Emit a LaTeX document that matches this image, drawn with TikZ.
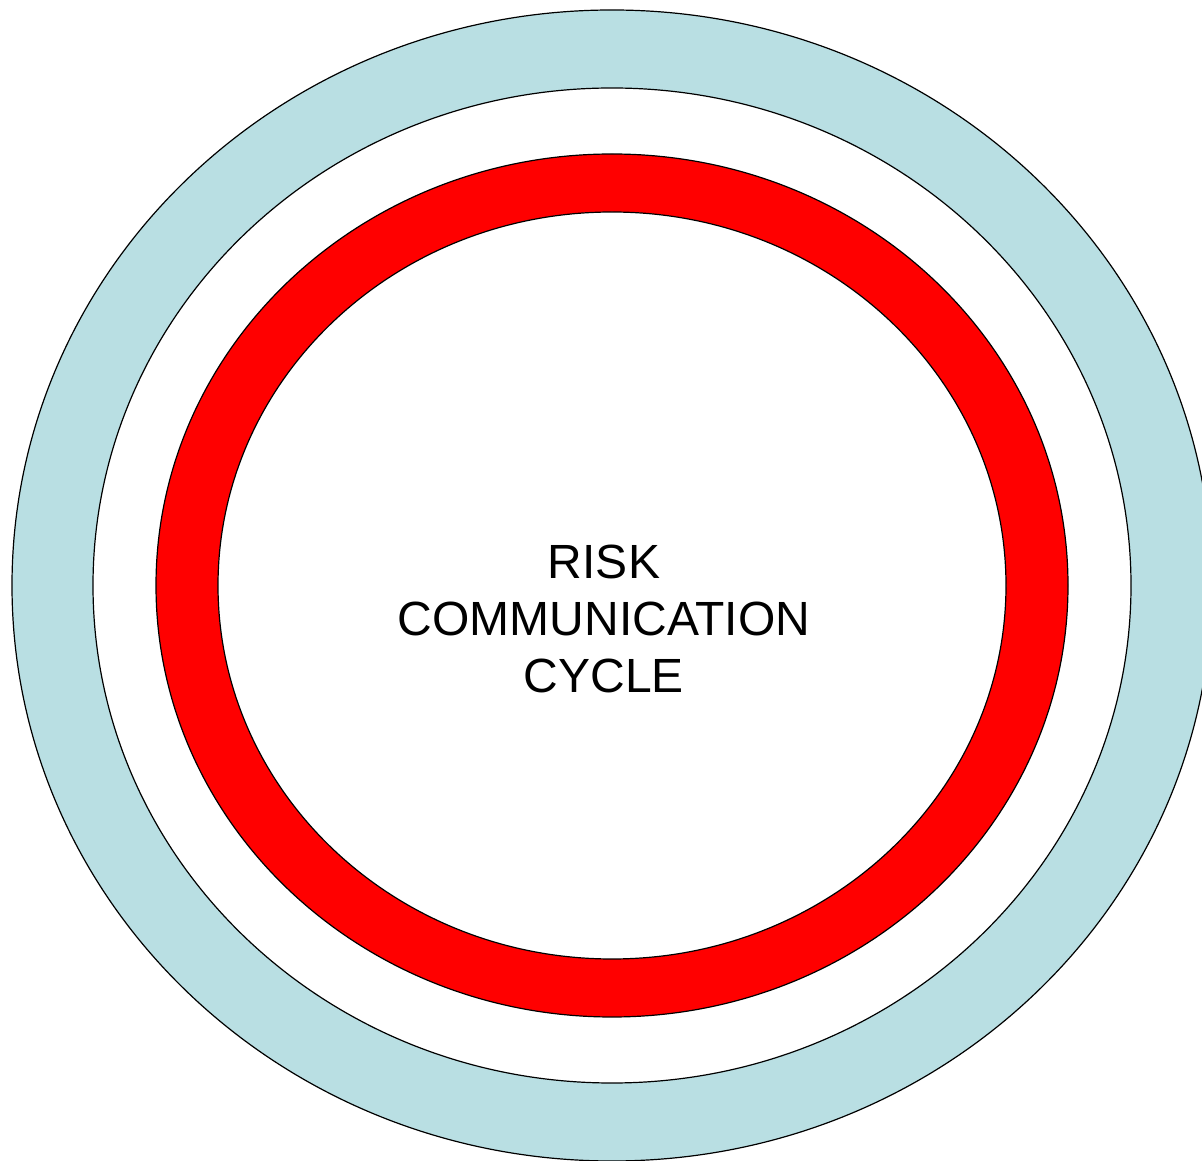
\documentclass[tikz,border=0pt]{standalone}
\usepackage{fontspec}
\setmainfont{Liberation Sans}
\definecolor{ringblue}{RGB}{185,223,227}
\begin{document}
\begin{tikzpicture}[x=1pt,y=1pt,
  ring/.style={draw=black,line width=1.2pt},
  label/.style={align=center,font=\fontsize{48}{57}\selectfont,inner sep=0pt}]
\useasboundingbox (0,0) rectangle (1202,1160);
\clip (0,0) rectangle (1202,1160);
\fill[white] (0,0) rectangle (1202,1160);
\coordinate (c) at (612,574.5);
\draw[ring,fill=ringblue] (c) ellipse [x radius=600,y radius=575.5];
\draw[ring,fill=white] (c) ellipse [x radius=519,y radius=497.5];
\draw[ring,fill=red] (c) ellipse [x radius=456,y radius=431.5];
\draw[ring,fill=white] (c) ellipse [x radius=394,y radius=373.5];
\node[label] (txt) at (604,541.5) {RISK\\COMMUNICATION\\CYCLE};
\end{tikzpicture}
\end{document}
